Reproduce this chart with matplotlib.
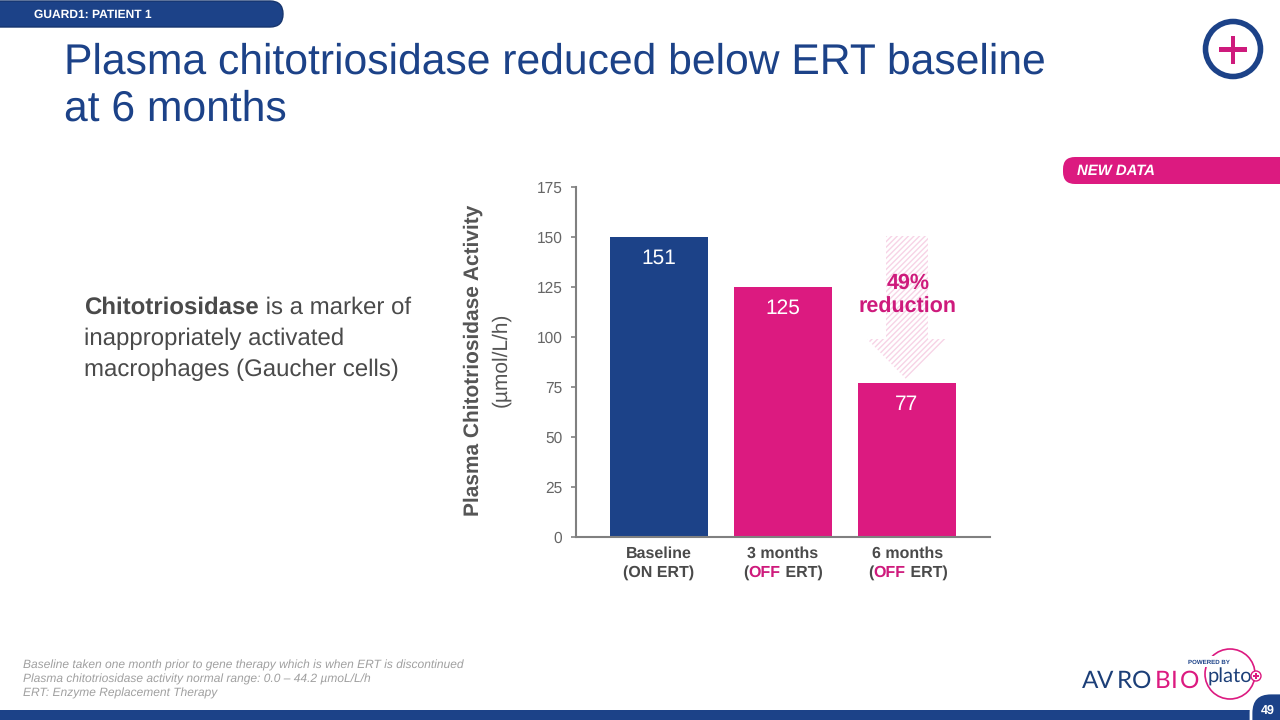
import matplotlib
matplotlib.use('Agg')
import matplotlib.pyplot as plt
from matplotlib.patches import Polygon, FancyBboxPatch, Circle, Rectangle

plt.rcParams['font.family'] = ['Liberation Sans', 'DejaVu Sans']
plt.rcParams['hatch.linewidth'] = 1.0
plt.rcParams['text.hinting'] = 'none'

NAVY = '#1C4288'
PINK = '#DC1A80'
GREY = '#4A4A4A'
LIGHT = '#A0A0A0'

categories = ['Baseline', '3 months', '6 months']
bar_values = [150, 125, 77]
bar_labels = ['151', '125', '77']
bar_colors = [NAVY, PINK, PINK]
y_ticks = [0, 25, 50, 75, 100, 125, 150, 175]
footnotes = ['Baseline taken one month prior to gene therapy which is when ERT is discontinued',
             'Plasma chitotriosidase activity normal range: 0.0 – 44.2 µmoL/L/h',
             'ERT: Enzyme Replacement Therapy']

fig = plt.figure(figsize=(12.8, 7.2), dpi=100)

# overlay in pixel coords for the slide stuff
bg = fig.add_axes([0, 0, 1, 1])
bg.set_xlim(0, 1280)
bg.set_ylim(720, 0)
bg.axis('off')

# chart
ax = fig.add_axes([576/1280, 1-537/720, (990-576)/1280, 350/720])
ax.set_facecolor('none')
ax.set_zorder(1)
ax.bar(range(3), bar_values, width=0.79, color=bar_colors)
ax.set_xlim(-0.669, 2.67)
ax.set_ylim(0, 175)
ax.set_yticks(y_ticks)
ax.set_xticks([])
ax.tick_params(axis='y', labelsize=11.2, labelcolor='#666666', color='#808080', length=3.4, width=1.2, pad=6.5)
for s in ['top', 'right']:
    ax.spines[s].set_visible(False)
for s in ['left', 'bottom']:
    ax.spines[s].set_color('#808080')
    ax.spines[s].set_linewidth(1.5)
for i in range(3):
    ax.text(i, bar_values[i]-9.5, bar_labels[i], color='white', fontsize=15, ha='center', va='center_baseline')

fig.canvas.draw()
rend = fig.canvas.get_renderer()


def pieces(x, y, parts, size, align='left'):
    # parts = (text, color, weight), drawn one after the other on a line
    widths = []
    made = []
    for s, c, w in parts:
        t = bg.text(x, y, s, color=c, fontweight=w, fontsize=size, va='center', ha='left')
        t2 = bg.text(0, 0, s.replace(' ', '\u00a0'), fontweight=w, fontsize=size)
        widths.append(t2.get_window_extent(rend).width)
        t2.remove()
        made.append(t)
    total = sum(widths)
    cur = x - total/2 if align == 'center' else x
    for t, wd in zip(made, widths):
        t.set_x(cur)
        cur += wd


# top tab
bg.add_patch(FancyBboxPatch((-30, 1), 313, 26, boxstyle='round,pad=0,rounding_size=13', fc=NAVY, ec='#16356E', lw=1))
bg.text(34, 14.5, 'GUARD1: PATIENT 1', color='white', fontsize=8.65, fontweight='bold', va='center')

# title
bg.text(64, 62, 'Plasma chitotriosidase reduced below ERT baseline', color=NAVY, fontsize=30.7, va='center')
bg.text(64, 109, 'at 6 months', color=NAVY, fontsize=30.7, va='center')

# plus icon
bg.add_patch(Circle((1233, 49), 27.5, fc='white', ec=NAVY, lw=4))
bg.add_patch(Rectangle((1218.5, 47), 28, 4.5, fc='#CE1A7C', ec='none'))
bg.add_patch(Rectangle((1230.5, 35.5), 4.5, 28, fc='#CE1A7C', ec='none'))

# new data tab
bg.add_patch(FancyBboxPatch((1063, 157), 260, 27, boxstyle='round,pad=0,rounding_size=12', fc=PINK, ec='none'))
bg.text(1077, 171, 'NEW DATA', color='white', fontsize=10.7, fontweight='bold', fontstyle='italic', va='center')

# left text
pieces(84, 308, [('Chitotriosidase', GREY, 'bold'), (' is a marker of', GREY, 'normal')], 17.3)
bg.text(84, 339, 'inappropriately activated', color=GREY, fontsize=17.3, va='center')
bg.text(84, 370, 'macrophages (Gaucher cells)', color=GREY, fontsize=17.3, va='center')

# axis title
bg.text(473, 360, 'Plasma Chitotriosidase Activity', color='#555555', fontsize=15, fontweight='bold', rotation=90, ha='center', va='center')
bg.text(501, 360, '(µmol/L/h)', color='#555555', fontsize=15, rotation=90, ha='center', va='center')

# arrow
bg.add_patch(Polygon([(886, 236), (928, 236), (928, 339), (946, 339), (906, 379), (867, 339), (886, 339)],
                     closed=True, fc='white', ec='#F7D3E6', lw=0, hatch='//////'))
top = fig.add_axes([0, 0, 1, 1])
top.set_xlim(0, 1280)
top.set_ylim(720, 0)
top.axis('off')
top.set_zorder(2)
top.text(908, 283, '49%', color='#CE1A7C', fontsize=15.5, fontweight='bold', ha='center', va='center')
top.text(908, 307, 'reduction', color='#CE1A7C', fontsize=15.5, fontweight='bold', ha='center', va='center')

# category labels
bg.text(659, 554, categories[0], color=GREY, fontsize=11.5, fontweight='bold', ha='center', va='center')
bg.text(659, 573, '(ON ERT)', color=GREY, fontsize=11.5, fontweight='bold', ha='center', va='center')
for cx, lab in [(783, categories[1]), (908, categories[2])]:
    bg.text(cx, 554, lab, color=GREY, fontsize=11.5, fontweight='bold', ha='center', va='center')
    pieces(cx, 573, [('(', GREY, 'bold'), ('OFF', '#CE1A7C', 'bold'), (' ERT)', GREY, 'bold')], 11.5, align='center')

# footnotes
for yy, line in zip([665, 679, 693], footnotes):
    bg.text(23, yy, line, color=LIGHT, fontsize=8.65, fontstyle='italic', va='center')

# logo, letters sit apart so one text each
for lx, ch, col in [(1090, 'A', '#1C3F78'), (1105, 'V', '#1C3F78'), (1124, 'R', '#1C3F78'), (1142, 'O', '#1C3F78'),
                    (1163, 'B', PINK), (1174, 'I', PINK), (1190, 'O', PINK)]:
    bg.text(lx, 681, ch, color=col, fontsize=17.5, family='Lato', ha='center', va='center')
bg.add_patch(Circle((1230, 674), 25, fc='none', ec=PINK, lw=1.2))
bg.add_patch(Rectangle((1186, 656), 40, 11, fc='white', ec='none', zorder=2))
bg.text(1188, 662, 'POWERED BY', color=NAVY, fontsize=4.4, fontweight='bold', va='center', zorder=3)
bg.text(1208, 677, 'plato', color='#1C3F78', fontsize=14.5, family='Lato', va='center', zorder=3)
bg.add_patch(Circle((1256, 676), 5, fc='white', ec=PINK, lw=1, zorder=3))
bg.add_patch(Rectangle((1253, 675.4), 6, 1.2, fc=PINK, ec='none', zorder=4))
bg.add_patch(Rectangle((1255.4, 673), 1.2, 6, fc=PINK, ec='none', zorder=4))

# bottom bar and page number
bg.add_patch(Rectangle((0, 710), 1280, 10, fc=NAVY, ec='none'))
bg.add_patch(FancyBboxPatch((1251, 693), 70, 50, boxstyle='round,pad=0,rounding_size=20', fc=NAVY, ec='white', lw=2))
bg.text(1268, 711, '49', color='white', fontsize=9, fontweight='bold', ha='center', va='center')

fig.savefig('out.png', dpi=100)
